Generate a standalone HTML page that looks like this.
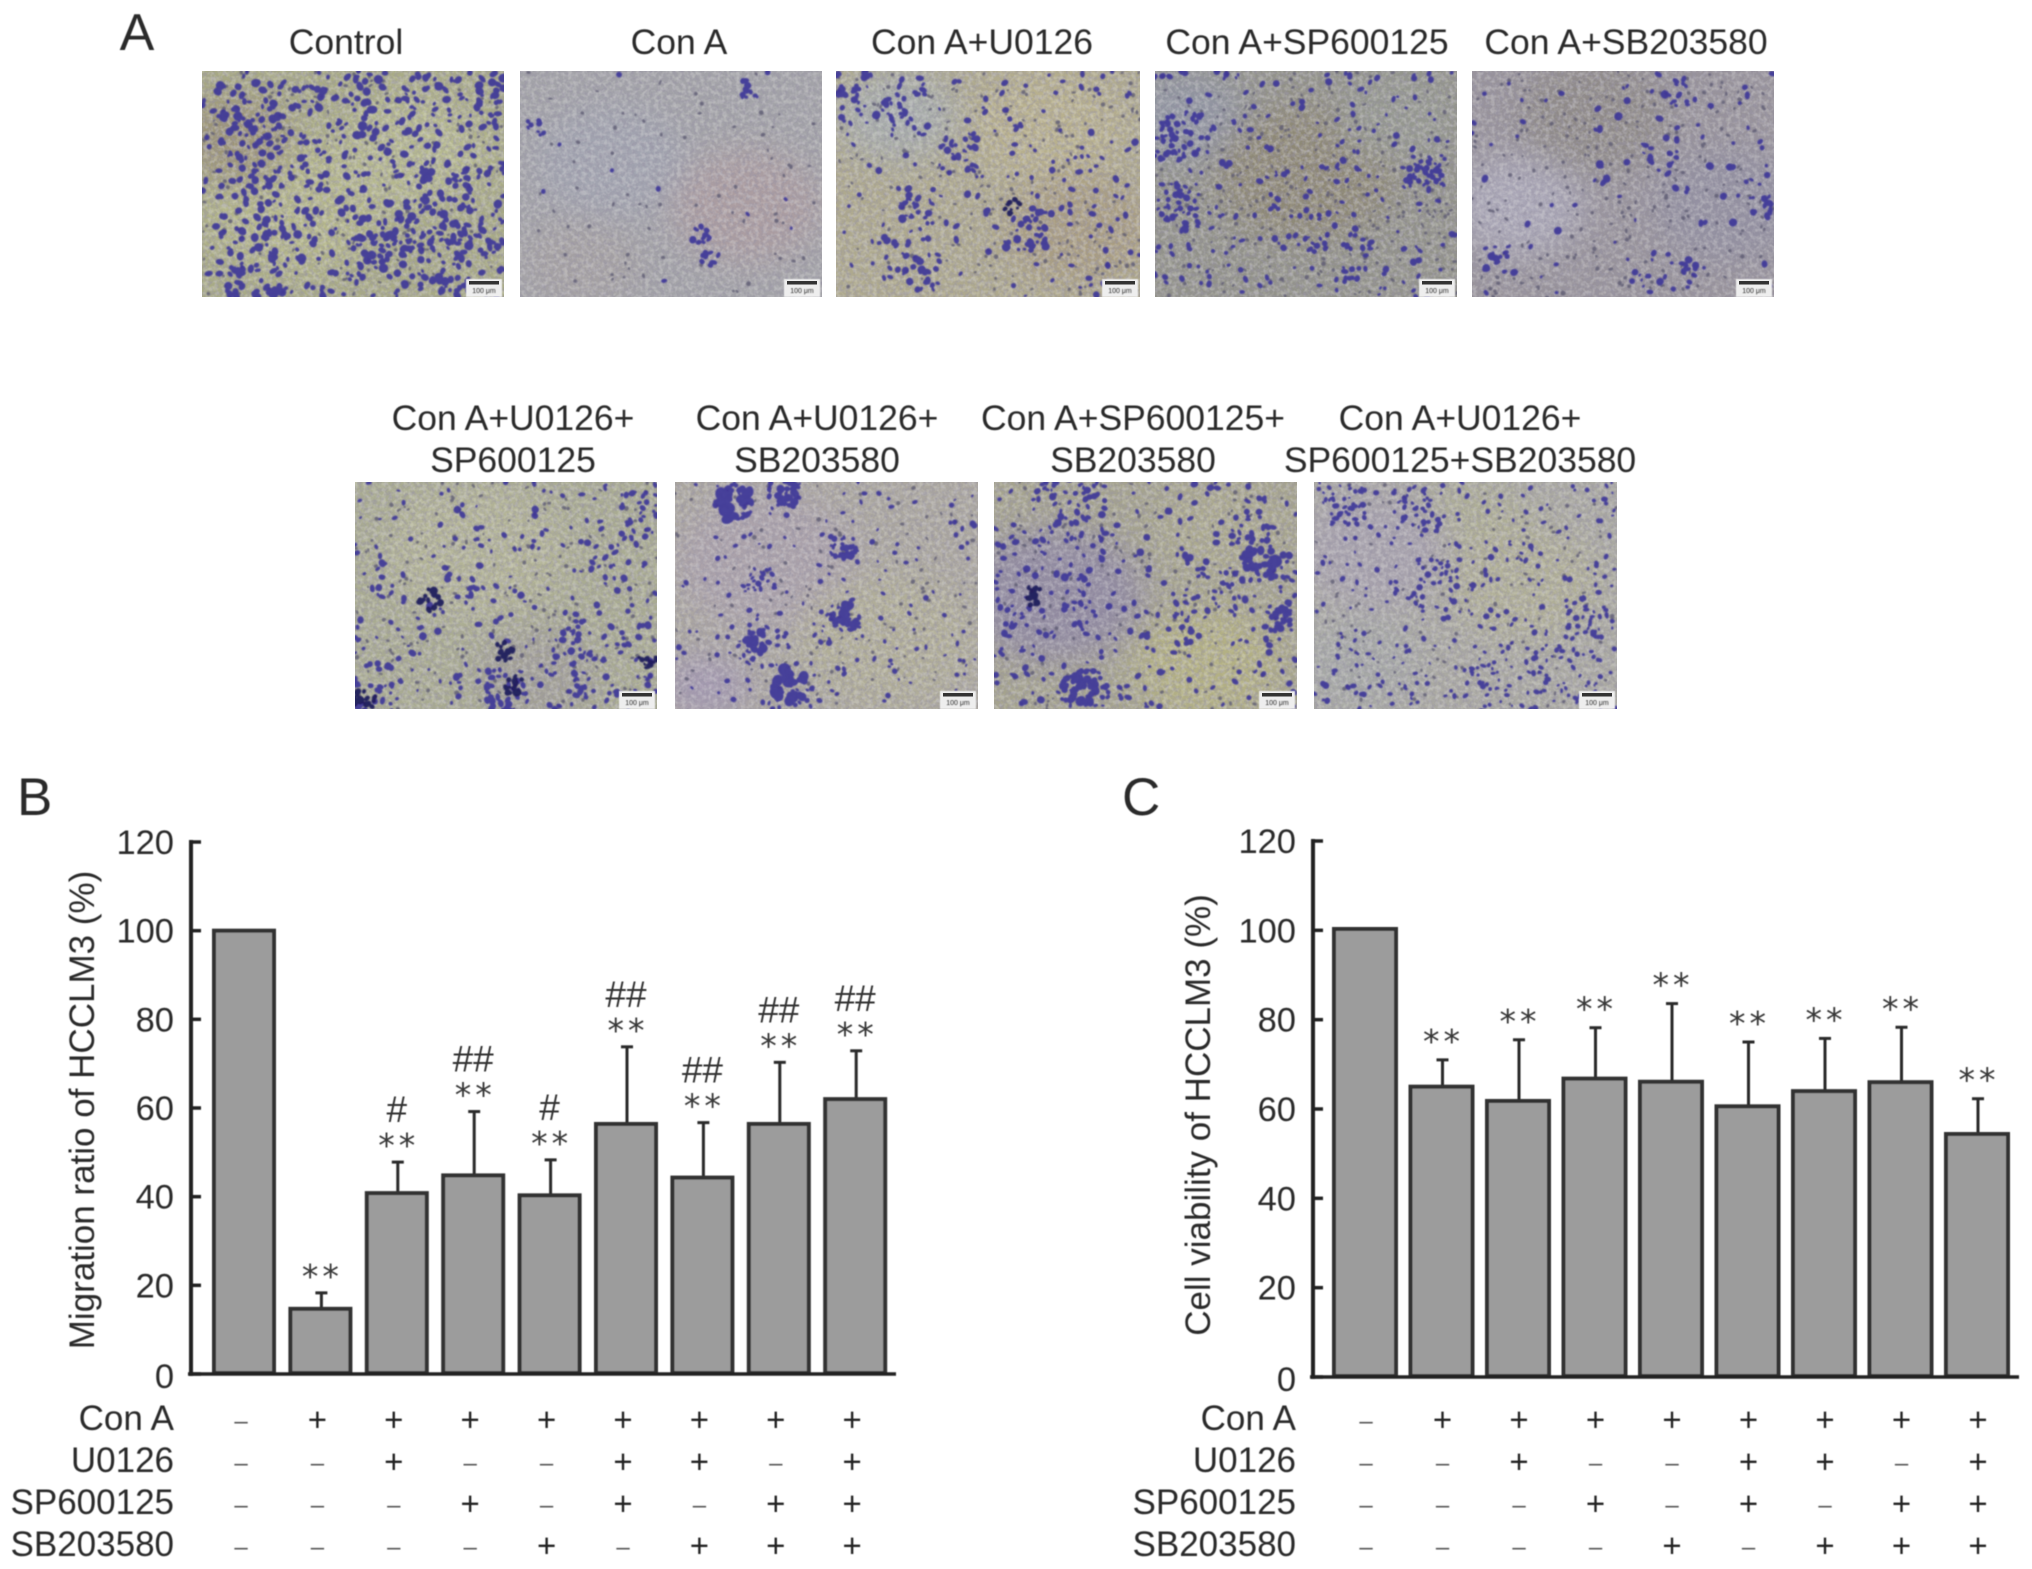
<!DOCTYPE html>
<html>
<head>
<meta charset="utf-8">
<title>Migration and viability of HCCLM3</title>
<style>
html,body{margin:0;padding:0;background:#fff;}
svg{display:block;}
text{font-family:"Liberation Sans",sans-serif;fill:#2b2b2b;}
</style>
</head>
<body>
<svg id="fig" xmlns="http://www.w3.org/2000/svg" width="2032" height="1569" viewBox="0 0 2032 1569">
  <defs>
    <filter id="soft" x="-5%" y="-5%" width="110%" height="110%"><feGaussianBlur stdDeviation="0.55"/></filter>
    <filter id="blobSoft" x="-5%" y="-5%" width="110%" height="110%"><feGaussianBlur stdDeviation="0.9"/></filter>
    <filter id="patchBlur" x="-30%" y="-30%" width="160%" height="160%"><feGaussianBlur stdDeviation="16"/></filter>
    <filter id="grainTex" x="0" y="0" width="100%" height="100%">
      <feTurbulence type="fractalNoise" baseFrequency="0.26" numOctaves="2" seed="7"/>
      <feColorMatrix type="matrix" values="0 0 0 0 0.32  0 0 0 0 0.30  0 0 0 0 0.38  2.2 0 0 0 -0.8"/>
    </filter>
    <filter id="grainLight" x="0" y="0" width="100%" height="100%">
      <feTurbulence type="fractalNoise" baseFrequency="0.22" numOctaves="2" seed="23"/>
      <feColorMatrix type="matrix" values="0 0 0 0 0.86  0 0 0 0 0.86  0 0 0 0 0.82  2.6 0 0 0 -1.0"/>
    </filter>
  </defs>
  <g id="panelA"></g>
  <g id="labels" filter="url(#soft)" font-size="35.5" text-anchor="middle">
    <text x="137" y="50" font-size="52">A</text>
    <text x="346" y="54">Control</text>
    <text x="679" y="54">Con A</text>
    <text x="982" y="54">Con A+U0126</text>
    <text x="1307" y="54">Con A+SP600125</text>
    <text x="1626" y="54">Con A+SB203580</text>
    <text x="513" y="430">Con A+U0126+</text>
    <text x="513" y="472">SP600125</text>
    <text x="817" y="430">Con A+U0126+</text>
    <text x="817" y="472">SB203580</text>
    <text x="1133" y="430">Con A+SP600125+</text>
    <text x="1133" y="472">SB203580</text>
    <text x="1460" y="430">Con A+U0126+</text>
    <text x="1460" y="472">SP600125+SB203580</text>
  </g>
  <g id="chartB" filter="url(#soft)"></g>
  <g id="chartC" filter="url(#soft)"></g>
</svg>
<script>
// ---- Chart data ----
const yTicks = [0, 20, 40, 60, 80, 100, 120];
const treatments = ['Con A', 'U0126', 'SP600125', 'SB203580'];
const conAFlags    = [0, 1, 1, 1, 1, 1, 1, 1, 1];
const u0126Flags   = [0, 0, 1, 0, 0, 1, 1, 0, 1];
const sp600125Flags= [0, 0, 0, 1, 0, 1, 0, 1, 1];
const sb203580Flags= [0, 0, 0, 0, 1, 0, 1, 1, 1];

const migrationMeans = [100, 14.7, 40.8, 44.8, 40.3, 56.4, 44.3, 56.4, 62];
const migrationErrors = [0, 3.6, 7, 14.4, 8, 17.4, 12.4, 13.9, 10.9];
const migrationStars = ['', '**', '**', '**', '**', '**', '**', '**', '**'];
const migrationHashes = ['', '', '#', '##', '#', '##', '##', '##', '##'];

const viabilityMeans = [100.3, 65, 61.8, 66.8, 66.1, 60.6, 64, 66, 54.4];
const viabilityErrors = [0, 6, 13.7, 11.4, 17.5, 14.4, 11.8, 12.3, 7.9];
const viabilityStars = ['', '**', '**', '**', '**', '**', '**', '**', '**'];
const viabilityHashes = ['', '', '', '', '', '', '', '', ''];

const NS = 'http://www.w3.org/2000/svg';
function mk(tag, attrs, parent, txt) {
  const e = document.createElementNS(NS, tag);
  for (const k in attrs) e.setAttribute(k, attrs[k]);
  if (txt !== undefined) e.textContent = txt;
  parent.appendChild(e);
  return e;
}

function drawChart(o) {
  const g = document.getElementById(o.id);
  const y = v => o.y0 - v * (o.y0 - o.y120) / 120;
  const x = i => o.c0 + i * o.step;

  // panel letter
  const letter = mk('text', {x: o.letterX, y: 815, 'font-size': 53}, g, o.letter);
  
  

  // y title
  const title = mk('text', {transform: 'translate(' + o.titleX + ',' + o.titleY + ') rotate(-90)', 'font-size': 35, 'text-anchor': 'middle'}, g, o.title);
  
  

  // bars and errors
  o.means.forEach((m, i) => {
    if (o.errs[i] > 0) {
      const top = y(m + o.errs[i]);
      const stem = mk('line', {x1: x(i) + 1, x2: x(i) + 1, y1: y(m), y2: top, stroke: '#2a2a2a', 'stroke-width': 3}, g);
      
      
      const cap = mk('line', {x1: x(i) - 5, x2: x(i) + 7, y1: top, y2: top, stroke: '#2a2a2a', 'stroke-width': 3}, g);
      
      
      if (o.stars[i]) {
        const s = mk('text', {x: x(i) + 2, y: top - o.starGap, 'text-anchor': 'middle', 'font-size': 33, 'letter-spacing': 4, style: 'font-family:"DejaVu Sans",sans-serif;fill:#383838'}, g, o.stars[i]);
        
        
      }
      if (o.hashes[i]) {
        const h = mk('text', {x: x(i), y: top - 40, 'text-anchor': 'middle', 'font-size': 37, style: 'fill:#333'}, g, o.hashes[i]);
        
        
      }
    }
    const bar = mk('rect', {x: x(i) - o.barW / 2, y: y(m), width: o.barW, height: o.y0 - y(m) - 1, fill: '#9c9c9c', stroke: '#333', 'stroke-width': 4}, g);
    
    
  });

  // axes
  const ya = mk('line', {x1: o.axisX, x2: o.axisX, y1: o.y120 - 2, y2: o.y0 + 2, stroke: '#222', 'stroke-width': 4}, g);
  
  
  const xa = mk('line', {x1: o.axisX - 3, x2: o.axisEnd, y1: o.y0, y2: o.y0, stroke: '#222', 'stroke-width': 3.5}, g);
  
  

  yTicks.forEach(t => {
    const tk = mk('line', {x1: o.axisX, x2: o.axisX + 10, y1: y(t), y2: y(t), stroke: '#222', 'stroke-width': 3.5}, g);
    
    
    const lb = mk('text', {x: o.labelR, y: y(t) + (t === 0 ? 14 : 12), 'text-anchor': 'end', 'font-size': 34.5}, g, String(t));
    
    
  });

  // treatment table
  const rows = [conAFlags, u0126Flags, sp600125Flags, sb203580Flags];
  rows.forEach((flags, r) => {
    const ry = 1420 + r * 42;
    const lb = mk('text', {x: o.labelR, y: ry + 10, 'text-anchor': 'end', 'font-size': 35}, g, treatments[r]);
    
    
    flags.forEach((f, i) => {
      const cx = x(i) + o.tableShift;
      const mark = mk('text', {x: cx, y: ry + (f ? 11 : 9), 'text-anchor': 'middle', 'font-size': f ? 33 : 24, style: f ? 'fill:#222' : 'fill:#555'}, g, f ? '+' : '\u2013');
      
      
    });
  });
}

drawChart({id: 'chartB', letter: 'B', letterX: 17, title: 'Migration ratio of HCCLM3 (%)', titleX: 94, titleY: 1110,
  means: migrationMeans, errs: migrationErrors, stars: migrationStars, hashes: migrationHashes, starGap: 5,
  y0: 1374, y120: 842, c0: 244, step: 76.4, barW: 60, axisX: 191, axisEnd: 896, labelR: 174, tableShift: -3});
drawChart({id: 'chartC', letter: 'C', letterX: 1122, title: 'Cell viability of HCCLM3 (%)', titleX: 1210, titleY: 1115,
  means: viabilityMeans, errs: viabilityErrors, stars: viabilityStars, hashes: viabilityHashes, starGap: 7,
  y0: 1377, y120: 841, c0: 1365, step: 76.5, barW: 62, axisX: 1313, axisEnd: 2019, labelR: 1296, tableShift: 1});

// ---- Micrograph approximations (decorative texture, not chart data) ----
function rng(seed) {
  return function () {
    seed |= 0; seed = seed + 0x6D2B79F5 | 0;
    let t = Math.imul(seed ^ seed >>> 15, 1 | seed);
    t = t + Math.imul(t ^ t >>> 7, 61 | t) ^ t;
    return ((t ^ t >>> 14) >>> 0) / 4294967296;
  };
}
const photos = [
 {n:'control', x:202,y:71,w:302,h:226, base:'#a8aa86', blobs:700, rmin:1.8, rmax:4.6, dark:160,
  patches:[[.3,.6,.3,'#b4b68a'],[.7,.35,.25,'#b5b88f'],[.1,.3,.2,'#9c9478']],
  clusters:[[.2,.18,.1],[.75,.6,.14],[.85,.85,.13],[.2,.85,.12],[.25,.47,.12],[.65,.15,.15],[.6,.78,.1]]},
 {n:'con-a', x:520,y:71,w:302,h:226, base:'#a3a3a8', blobs:16, rmin:1.5, rmax:3.5, dark:70,
  patches:[[.75,.6,.25,'#ab9da1'],[.3,.4,.25,'#a2a4b0'],[.2,.85,.2,'#a5a1a3']],
  clusters:[[.76,.08,.03],[.05,.26,.03],[.6,.72,.03],[.63,.84,.03]]},
 {n:'con-a-u0126', x:836,y:71,w:304,h:226, base:'#aea98e', blobs:270, rmin:1.6, rmax:4.2, dark:170,
  patches:[[.2,.2,.2,'#a8adaa'],[.7,.25,.25,'#b8b08e'],[.8,.7,.25,'#a99d82']],
  clusters:[[.25,.85,.09],[.05,.05,.06],[.22,.18,.08],[.4,.37,.07],[.27,.6,.06],[.62,.7,.07]], bigDark:[[.58,.6,.022]]},
 {n:'con-a-sp600125', x:1155,y:71,w:302,h:226, base:'#92928a', blobs:340, rmin:1.6, rmax:3.8, dark:220,
  patches:[[.1,.2,.2,'#9094a0'],[.5,.45,.3,'#8e8876'],[.8,.2,.2,'#94978f']],
  clusters:[[.08,.3,.08],[.07,.6,.08],[.6,.8,.12],[.9,.45,.06]]},
 {n:'con-a-sb203580', x:1472,y:71,w:302,h:226, base:'#98939b', blobs:110, rmin:1.6, rmax:4.2, dark:220,
  patches:[[.15,.6,.22,'#aba8b8'],[.4,.2,.25,'#8f8a88'],[.85,.6,.25,'#9390a0']],
  clusters:[[.09,.83,.05],[.58,.85,.07],[.72,.9,.06],[.62,.36,.06],[.7,.1,.05],[.95,.6,.04]]},
 {n:'con-a-u0126-sp600125', x:355,y:482,w:302,h:227, base:'#a9ab92', blobs:340, rmin:1.6, rmax:4, dark:170,
  patches:[[.4,.3,.3,'#b2b396'],[.6,.85,.2,'#a19f95']],
  clusters:[[.75,.8,.12],[.95,.15,.08],[.5,.92,.07],[.08,.92,.09]],
  bigDark:[[.25,.52,.03],[.49,.75,.028],[.53,.9,.03],[.97,.78,.025],[.03,.96,.03]]},
 {n:'con-a-u0126-sb203580', x:675,y:482,w:303,h:227, base:'#aba79f', blobs:230, rmin:1.4, rmax:3.2, dark:120,
  patches:[[.3,.35,.3,'#aba2aa'],[.7,.7,.3,'#b1ae98'],[.1,.9,.15,'#a49ab0']],
  clusters:[[.2,.07,.06],[.36,.05,.05],[.55,.28,.04],[.28,.42,.05],[.55,.62,.07],[.27,.72,.07],[.38,.9,.08]],
  big:[[.2,.09,.05],[.37,.05,.035],[.57,.3,.025],[.56,.6,.04],[.27,.7,.035],[.38,.9,.05]]},
 {n:'con-a-sp600125-sb203580', x:994,y:482,w:303,h:227, base:'#a5a38e', blobs:400, rmin:1.7, rmax:4, dark:130,
  patches:[[.7,.8,.25,'#b3b084'],[.2,.5,.3,'#918aa0'],[.75,.2,.2,'#aba98e']],
  clusters:[[.25,.15,.12],[.17,.5,.14],[.88,.33,.1],[.3,.93,.08],[.7,.48,.1]],
  big:[[.88,.35,.045],[.95,.6,.03],[.29,.92,.04]], bigDark:[[.13,.5,.028]]},
 {n:'con-a-u0126-sp600125-sb203580', x:1314,y:482,w:303,h:227, base:'#aaa9a2', blobs:430, rmin:1.4, rmax:3.4, dark:110,
  patches:[[.5,.25,.25,'#adad94'],[.15,.8,.2,'#a6a8a6'],[.2,.3,.25,'#a8a3ad'],[.7,.45,.25,'#b0af97']],
  clusters:[[.4,.45,.09],[.35,.12,.08],[.85,.85,.1],[.65,.9,.1],[.1,.1,.07],[.9,.6,.07]]}
];

const panel = document.getElementById('panelA');
photos.forEach((p, idx) => {
  const r = rng(1234 + idx * 97);
  const g = mk('g', {}, panel);
  
  
  const cid = 'clip' + idx;
  const cp = mk('clipPath', {id: cid}, g);
  mk('rect', {x: p.x, y: p.y, width: p.w, height: p.h}, cp);
  const inner = mk('g', {'clip-path': 'url(#' + cid + ')'}, g);
  mk('rect', {x: p.x, y: p.y, width: p.w, height: p.h, fill: p.base}, inner);
  const pg = mk('g', {filter: 'url(#patchBlur)'}, inner);
  p.patches.forEach(q => {
    mk('ellipse', {cx: p.x + q[0] * p.w, cy: p.y + q[1] * p.h, rx: q[2] * p.w, ry: q[2] * p.h, fill: q[3]}, pg);
  });
  mk('rect', {x: p.x, y: p.y, width: p.w, height: p.h, filter: 'url(#grainTex)', opacity: .6}, inner);
  mk('rect', {x: p.x, y: p.y, width: p.w, height: p.h, filter: 'url(#grainLight)', opacity: .28}, inner);

  function blobPath(cx, cy, rx, ry, rot) {
    const a = (rot || 0) * Math.PI / 180;
    const dx = rx * Math.cos(a), dy = rx * Math.sin(a);
    return 'M' + (cx - dx).toFixed(1) + ' ' + (cy - dy).toFixed(1) + 'A' + rx.toFixed(1) + ' ' + ry.toFixed(1) + ' ' + (rot || 0).toFixed(0) + ' 1 0 ' + (cx + dx).toFixed(1) + ' ' + (cy + dy).toFixed(1) + 'A' + rx.toFixed(1) + ' ' + ry.toFixed(1) + ' ' + (rot || 0).toFixed(0) + ' 1 0 ' + (cx - dx).toFixed(1) + ' ' + (cy - dy).toFixed(1) + 'z';
  }
  function clump(c, n) {
    let s = '';
    for (let i = 0; i < n; i++) {
      const ang = r() * 6.283, rad = Math.sqrt(r()) * c[2] * p.w * 1.2;
      const sz = c[2] * p.w * (.22 + r() * .25);
      s += blobPath(p.x + c[0] * p.w + Math.cos(ang) * rad, p.y + c[1] * p.h + Math.sin(ang) * rad, sz, sz * (.6 + r() * .4), r() * 180);
    }
    return s;
  }
  let darkD = '';
  for (let i = 0; i < p.dark; i++) {
    darkD += blobPath(p.x + r() * p.w, p.y + r() * p.h, 1 + r() * 1.4, 1 + r() * 1, r() * 180);
  }
  let d = '';
  const single = (u, v) => {
    const rx = p.rmin + r() * (p.rmax - p.rmin);
    return blobPath(p.x + u * p.w, p.y + v * p.h, rx, rx * (.55 + r() * .4), r() * 180);
  };
  for (let i = 0; i < p.blobs; i++) {
    let u, v;
    if (r() < 0.3 && p.clusters.length) {
      const c = p.clusters[Math.floor(r() * p.clusters.length)];
      u = c[0] + (r() - .5) * 2 * c[2];
      v = c[1] + (r() - .5) * 2 * c[2] * p.w / p.h;
    } else { u = r(); v = r(); }
    d += single(u, v);
  }
  p.clusters.forEach(c => {
    for (let i = 0; i < 10; i++) {
      d += single(c[0] + (r() - .5) * 2 * c[2], c[1] + (r() - .5) * 2 * c[2] * p.w / p.h);
    }
  });
  (p.big || []).forEach(c => { d += clump(c, 20); });
  let bd = '';
  (p.bigDark || []).forEach(c => { bd += clump(c, 14); });
  const sg = mk('g', {filter: 'url(#blobSoft)'}, inner);
  mk('path', {d: darkD, fill: '#5d5a72', opacity: .8}, sg);
  mk('path', {d: d, fill: '#3c3398', opacity: .9}, sg);
  if (bd) mk('path', {d: bd, fill: '#1f1a5c', opacity: .95}, sg);

  // scale bar box
  const bx = p.x + p.w - 38, by = p.y + p.h - 18;
  mk('rect', {x: bx, y: by, width: 36, height: 18, fill: '#eeeeee', filter: 'url(#soft)'}, inner);
  const sb = mk('rect', {x: bx + 3, y: by + 2, width: 30, height: 3.5, fill: '#333'}, inner);
  
  
  const st = mk('text', {x: bx + 18, y: by + 14, 'text-anchor': 'middle', 'font-size': 7, filter: 'url(#soft)'}, inner, '100 \u03bcm');
  
  
});
</script>
</body>
</html>
